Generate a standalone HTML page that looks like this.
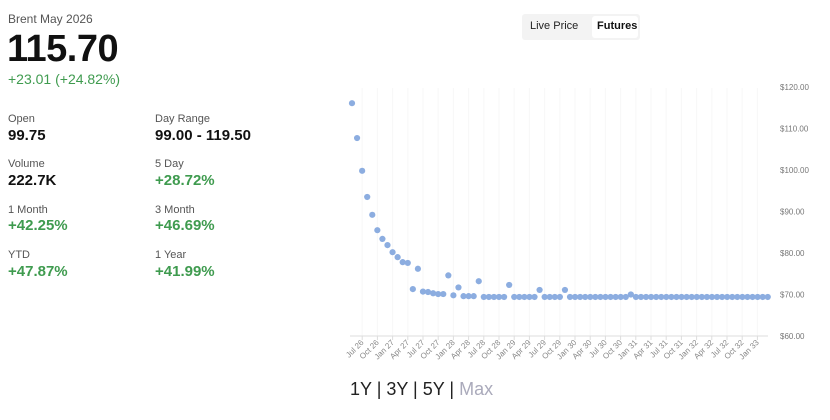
<!DOCTYPE html>
<html><head><meta charset="utf-8"><style>
body{margin:0;width:830px;height:420px;background:#fff;font-family:"Liberation Sans",sans-serif;position:relative;overflow:hidden}
.a{position:absolute;white-space:nowrap}
.l{font-size:11px;color:#555}
.v{font-size:15px;font-weight:bold;color:#111}
.g{color:#3f9b4f}
</style></head><body>
<div class="a" style="left:8px;top:12px;font-size:12px;color:#555">Brent May 2026</div>
<div class="a" style="left:7px;top:28px;font-size:38px;font-weight:bold;color:#111;letter-spacing:-0.5px">115.70</div>
<div class="a g" style="left:8px;top:71px;font-size:14px">+23.01 (+24.82%)</div>

<div class="a l" style="left:8px;top:113px">Open</div>
<div class="a v" style="left:8px;top:127px">99.75</div>
<div class="a l" style="left:155px;top:113px">Day Range</div>
<div class="a v" style="left:155px;top:127px">99.00 - 119.50</div>

<div class="a l" style="left:8px;top:158px">Volume</div>
<div class="a v" style="left:8px;top:172px">222.7K</div>
<div class="a l" style="left:155px;top:158px">5 Day</div>
<div class="a v g" style="left:155px;top:172px">+28.72%</div>

<div class="a l" style="left:8px;top:204px">1 Month</div>
<div class="a v g" style="left:8px;top:217px">+42.25%</div>
<div class="a l" style="left:155px;top:204px">3 Month</div>
<div class="a v g" style="left:155px;top:217px">+46.69%</div>

<div class="a l" style="left:8px;top:249px">YTD</div>
<div class="a v g" style="left:8px;top:263px">+47.87%</div>
<div class="a l" style="left:155px;top:249px">1 Year</div>
<div class="a v g" style="left:155px;top:263px">+41.99%</div>

<div class="a" style="left:522px;top:14px;width:118px;height:26px;background:#f3f3f3;border-radius:3px"></div>
<div class="a" style="left:592px;top:16px;width:46px;height:22px;background:#fff;border-radius:3px"></div>
<div class="a" style="left:530px;top:20px;font-size:11px;color:#222">Live Price</div>
<div class="a" style="left:597px;top:20px;font-size:11px;font-weight:bold;color:#111">Futures</div>

<div class="a" style="left:350px;top:379px;font-size:18px;color:#222">1Y | 3Y | 5Y | <span style="color:#aab">Max</span></div>

<svg class="a" style="left:0;top:0" width="830" height="420" id="s"></svg>
<script>
var s=document.getElementById('s'),h='';
function Y(p){return 87+(120-p)*4.15;}
var labs=['$120.00','$110.00','$100.00','$90.00','$80.00','$70.00','$60.00'];
for(var k=0;k<7;k++){var y=Y(120-k*10);h+='<text x="780" y="'+(y+3)+'" font-size="8" fill="#777" font-family="Liberation Sans">'+labs[k]+'</text>';}
var m=['Jul','Oct','Jan','Apr'],yr=26;
for(var k=0;k<27;k++){var x=362.2+k*15.2;var mm=m[k%4];if(mm=='Jan'&&k>0)yr++;
h+='<line x1="'+x+'" y1="88" x2="'+x+'" y2="336" stroke="#f7f7f7" stroke-width="1"/>';
h+='<line x1="'+x+'" y1="336" x2="'+x+'" y2="340" stroke="#ddd"/>';
h+='<text transform="translate('+(x+2)+',343) rotate(-45)" text-anchor="end" font-size="8" fill="#888" font-family="Liberation Sans">'+mm+' '+yr+'</text>';}
h+='<line x1="350" y1="336" x2="768" y2="336" stroke="#ddd"/>';
var v=[116.1,107.7,99.8,93.5,89.2,85.5,83.4,81.9,80.2,79.0,77.8,77.6,71.3,76.2,70.7,70.6,70.3,70.1,70.1,74.6,69.8,71.7,69.6,69.6,69.6,73.2];
while(v.length<83)v.push(69.4);
v[31]=72.3;v[37]=71.1;v[42]=71.1;v[55]=70.0;
for(var i=0;i<83;i++){h+='<circle cx="'+(352+i*5.07)+'" cy="'+Y(v[i])+'" r="3.1" fill="#8cade0"/>';}
s.innerHTML=h;
</script>
</body></html>
